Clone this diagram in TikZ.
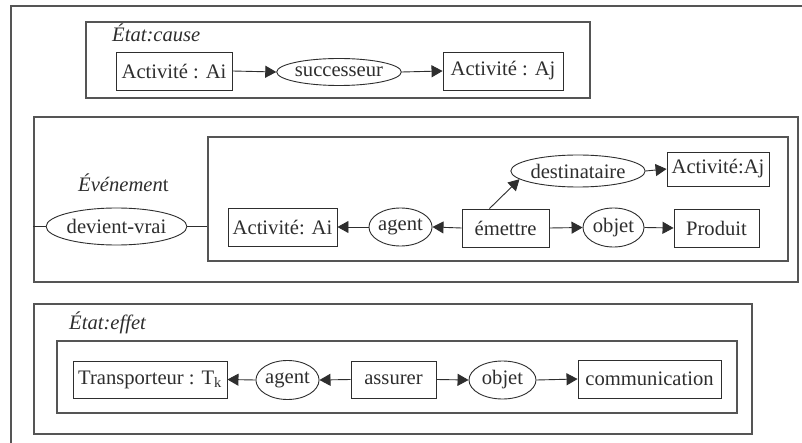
\documentclass[tikz,border=0pt]{standalone}
\usepackage{fontspec}
\setmainfont{Liberation Serif}
\usetikzlibrary{shapes.geometric,arrows.meta}
\definecolor{ink}{HTML}{2E2E2E}
\definecolor{frameline}{HTML}{555555}
\begin{document}
\begin{tikzpicture}[x=1pt,y=-1pt,
  every node/.style={font=\fontsize{20.6}{24}\selectfont, text=ink},
  frm/.style={draw=frameline, line width=1.1pt, rectangle, inner sep=0pt},
  rbox/.style={draw=ink, line width=0.9pt, rectangle, inner sep=0pt},
  ell/.style={draw=ink, line width=0.9pt, ellipse, inner sep=0pt},
  lbl/.style={inner sep=0pt, anchor=base west, font=\fontsize{20.6}{24}\selectfont\itshape},
  arr/.style={draw=ink, line width=0.9pt, -{Triangle[length=11pt,width=12pt]}},
  ln/.style={draw=ink, line width=0.9pt}]
\useasboundingbox (0,0) rectangle (802,443);
\fill[white] (0,0) rectangle (802,443);
% outer frame (cut off)
\draw[frameline, line width=1.1pt] (802,6) -| (11,443);

% ---- État:cause
\node[frm, minimum width=504pt, minimum height=76pt] (f1) at (338,60) {};
\node[lbl] (l1) at (112,42) {État:cause};
\node[rbox, minimum width=116pt, minimum height=38pt] (ai1) at (174,71) {Activité : Ai};
\node[ell, minimum width=120pt, minimum height=27pt] (succ) at (339,72) {successeur};
\node[rbox, minimum width=120pt, minimum height=38pt] (aj1) at (503,71) {Activité : Aj};
\draw[arr] (ai1.east) -- (succ.west);
\draw[arr] (succ.east) -- (aj1.west);

% ---- Événement
\node[frm, minimum width=764pt, minimum height=165pt] (f2) at (416,199.5) {};
\node[frm, minimum width=580pt, minimum height=124pt] (in2) at (498,199) {};
\node[inner sep=0pt, anchor=base west] (l2) at (78,192) {\textit{Événemen}t};
\node[ell, minimum width=117pt, minimum height=37pt] (dv) at (116.5,226.5) {devient-vrai};
\node[rbox, minimum width=109pt, minimum height=38pt] (ai2) at (282.5,227) {Activité: Ai};
\node[ell, minimum width=63pt, minimum height=38pt] (ag2) at (400.5,227) {agent};
\node[rbox, minimum width=87pt, minimum height=38pt] (em) at (505.5,228) {émettre};
\node[ell, minimum width=61pt, minimum height=39pt] (ob2) at (613.5,227.5) {objet};
\node[rbox, minimum width=85pt, minimum height=38pt] (prod) at (716.5,228) {Produit};
\node[ell, minimum width=108pt, minimum height=32pt] (dest) at (578,171) {destinataire};
\node[rbox, minimum width=102pt, minimum height=34pt] (aj2) at (718,169) {Activité:Aj};
\draw[ln] (dv.west) -- (dv.west -| f2.west);
\draw[ln] (dv.east) -- (dv.east -| in2.west);
\draw[arr] (em.west) -- (ag2.east);
\draw[arr] (ag2.west) -- (ai2.east);
\draw[arr] (em.east) -- (ob2.west);
\draw[arr] (ob2.east) -- (prod.west);
\draw[arr] (dest.east) -- (aj2.west);
\draw[arr] ([xshift=-16pt]em.north) -- (dest.188);

% ---- État:effet
\node[frm, minimum width=718pt, minimum height=130pt] (f3) at (393,369) {};
\node[lbl] (l3) at (69,329) {État:effet};
\node[frm, minimum width=680pt, minimum height=72pt] (in3) at (397,377) {};
\node[rbox, minimum width=154pt, minimum height=37pt] (tk) at (150,379.5) {Transporteur : T\textsubscript{k}};
\node[ell, minimum width=61pt, minimum height=39pt] (ag3) at (287.5,380) {agent};
\node[rbox, minimum width=85pt, minimum height=37pt] (ass) at (393.5,379.5) {assurer};
\node[ell, minimum width=67pt, minimum height=38pt] (ob3) at (502.5,380) {objet};
\node[rbox, minimum width=143pt, minimum height=38pt] (comm) at (649.5,379) {communication};
\draw[arr] (ass.west) -- (ag3.east);
\draw[arr] (ag3.west) -- (tk.east);
\draw[arr] (ass.east) -- (ob3.west);
\draw[arr] (ob3.east) -- (comm.west);
\end{tikzpicture}
\end{document}
